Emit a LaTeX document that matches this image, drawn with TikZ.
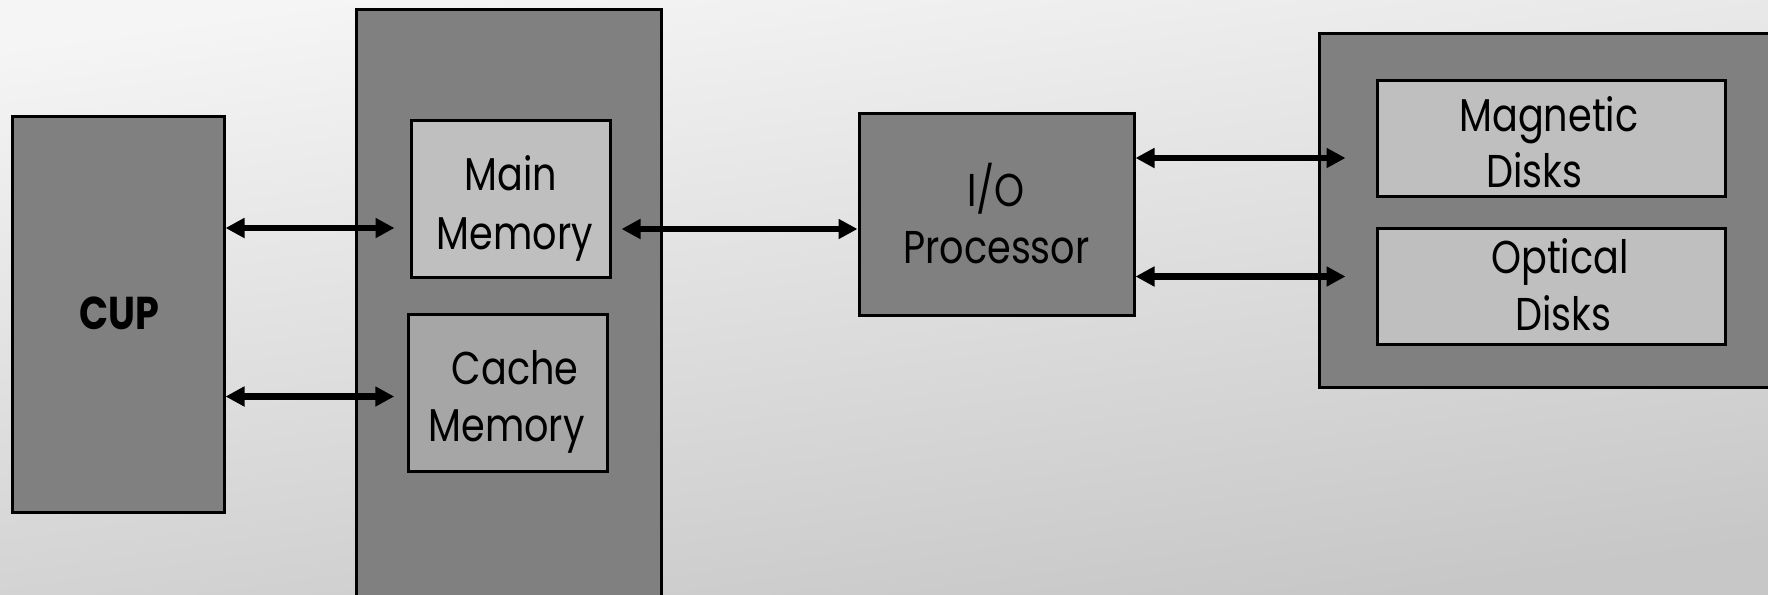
\documentclass[tikz,border=0pt]{standalone}
\usepackage{fontspec}
\setmainfont{Poppins}[FakeStretch=0.83]
\usetikzlibrary{arrows.meta}
\definecolor{boxdark}{HTML}{808080}
\definecolor{boxlight}{HTML}{BFBFBF}
\definecolor{boxmid}{HTML}{A6A6A6}
\tikzset{
  block/.style={draw=black, line width=3pt, fill=boxdark, rectangle, inner sep=0pt},
  unit/.style={draw=black, line width=3pt, fill=boxlight, rectangle, inner sep=0pt},
  label txt/.style={inner sep=0pt, anchor=base, text=black,
    font=\fontsize{46}{57}\selectfont},
  bold txt/.style={label txt, font=\fontsize{46}{57}\selectfont\bfseries},
  headtip/.tip={Triangle[length=19pt,width=19pt]},
  biarrow/.style={draw=black, line width=6.3pt, headtip-headtip},
}
\begin{document}
\begin{tikzpicture}[x=1pt, y=-1pt]
  % page and backdrop
  \useasboundingbox (0,0) rectangle (1768,594);
  \shade[top color=white!96!black, bottom color=white!78!black, shading angle=8]
    (0,0) rectangle (1768,594);
  \fill[white!86!black, draw=white!70!black, line width=1.2pt]
    (1212,600) arc[start angle=180, end angle=0, x radius=26, y radius=14];

  % processor
  \node[block, minimum width=212, minimum height=396] (cup) at (118,314) {};
  \node[bold txt] (cuptxt) at (119,329) {CUP};

  % memory unit
  \node[block, minimum width=305, minimum height=600] (mem) at (508.5,310) {};
  \node[unit, minimum width=199, minimum height=157] (main) at (510.5,198.5) {};
  \node[label txt] (main1) at (511,190.5) {Main};
  \node[label txt] (main2) at (515,249) {Memory};
  \node[unit, fill=boxmid, minimum width=198.5, minimum height=157] (cache) at (508,392.5) {};
  \node[label txt] (cache1) at (515,384.5) {Cache};
  \node[label txt] (cache2) at (506.5,441) {Memory};

  % I/O processor
  \node[block, minimum width=275, minimum height=202] (io) at (996.5,214) {};
  \node[label txt] (io1) at (996,206) {I/O};
  \node[label txt] (io2) at (996.5,263) {Processor};

  % storage unit
  \node[block, minimum width=481, minimum height=353] (store) at (1560,210.5) {};
  \node[unit, minimum width=348, minimum height=116] (mag) at (1551,138) {};
  \node[label txt] (mag1) at (1549,131) {Magnetic};
  \node[label txt] (mag2) at (1534,187.5) {Disks};
  \node[unit, minimum width=348, minimum height=116] (opt) at (1551,286) {};
  \node[label txt] (opt1) at (1560,273) {Optical};
  \node[label txt] (opt2) at (1563,330) {Disks};

  % data paths
  \path[biarrow] (cup.east |- 0,228) -- ([xshift=-15pt]main.west |- 0,228);
  \path[biarrow] (cup.east |- 0,396.5) -- ([xshift=-13pt]cache.west |- 0,396.5);
  \path[biarrow] ([xshift=10pt]main.east |- 0,229) -- (io.west |- 0,229);
  \path[biarrow] (io.east |- 0,158) -- ([xshift=-30pt]mag.west |- 0,158);
  \path[biarrow] (io.east |- 0,276.5) -- ([xshift=-30pt]opt.west |- 0,276.5);
\end{tikzpicture}
\end{document}
